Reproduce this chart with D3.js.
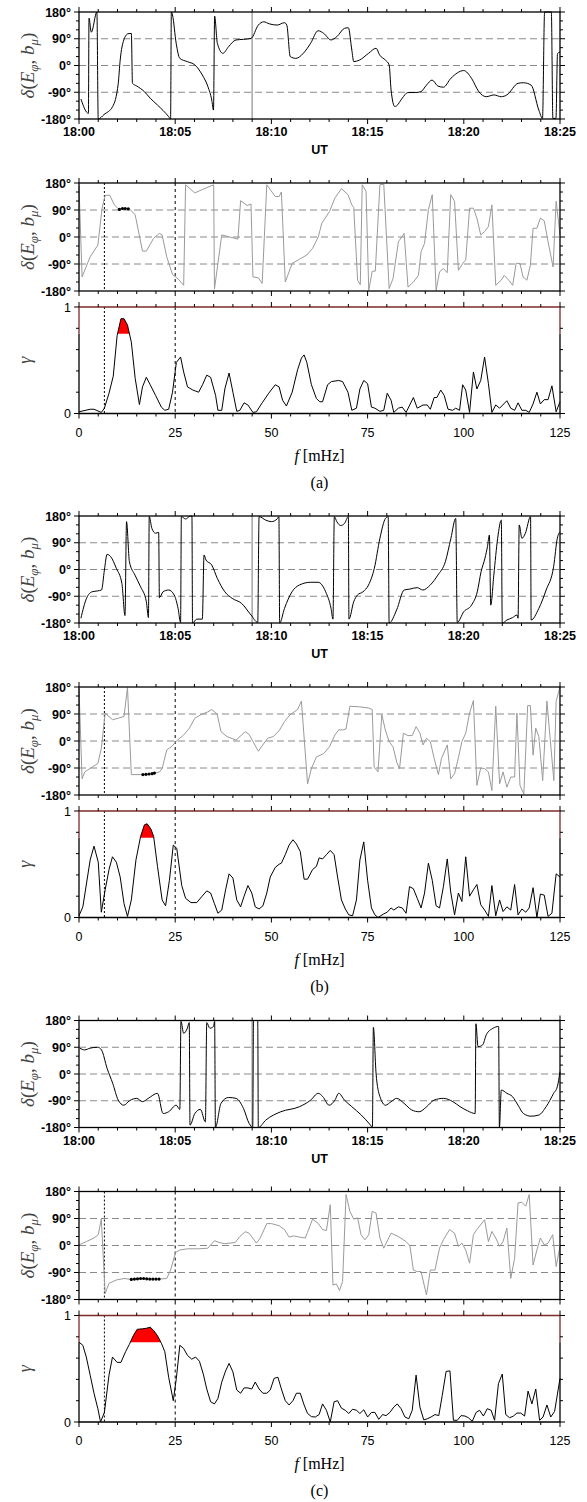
<!DOCTYPE html>
<html>
<head>
<meta charset="utf-8">
<script src="https://cdn.jsdelivr.net/npm/d3@7"></script>
<style>
  body { margin: 0; background: #fff; }
</style>
</head>
<body>
<div id="chart"></div>
<script>
// time series: [minutes after 18:00 UT, phase in degrees]
const timeSeriesA = [[0.1,-113],[0.49,-161],[0.52,159],[0.64,112],[0.93,180],[1.0,-180],[1.3,-165],[1.75,-138],[2.04,-60],[2.14,18],[2.33,86],[2.55,107],[2.72,108],[2.78,-60],[3.0,-69],[3.4,-88],[3.7,-110],[4.08,-133],[4.66,-172],[4.76,-180],[4.8,180],[4.86,170],[5.05,75],[5.24,24],[5.63,13],[6.02,2],[6.41,-32],[6.7,-71],[6.9,-116],[6.99,-150],[7.05,166],[7.19,75],[7.48,41],[7.77,63],[8.16,86],[8.55,88],[8.94,91],[9.32,136],[9.6,147],[9.9,140],[10.3,136],[10.68,144],[10.8,136],[10.98,30],[11.27,24],[11.66,41],[12.04,75],[12.43,117],[12.72,108],[13.1,86],[13.4,97],[13.8,125],[14.0,127],[14.18,52],[14.28,13],[14.57,18],[15.05,41],[15.44,58],[15.63,35],[15.93,18],[16.12,2],[16.22,-82],[16.41,-138],[16.5,-136],[16.8,-110],[17.09,-91],[17.48,-91],[17.77,-88],[18.06,-66],[18.35,-49],[18.65,-69],[18.94,-73],[19.33,-43],[20.0,-17],[20.4,-43],[20.78,-88],[21.17,-105],[21.56,-99],[21.95,-105],[22.24,-99],[22.82,-60],[23.1,-58],[23.5,-66],[23.9,-150],[24.09,-178],[24.2,180],[24.55,180],[24.63,-178],[24.79,-178],[24.87,40],[25,45]];
const timeSeriesB = [[0.1,-164],[0.39,-97],[0.68,-75],[0.97,-72],[1.17,-69],[1.32,-2],[1.46,51],[1.65,43],[1.94,4],[2.23,-47],[2.39,-155],[2.47,161],[2.62,26],[2.91,-19],[3.2,-58],[3.5,-108],[3.61,-162],[3.65,178],[3.79,138],[3.98,122],[4.14,125],[4.18,-95],[4.37,-75],[4.66,-69],[4.95,-86],[5.15,-131],[5.28,-178],[5.32,178],[5.54,170],[5.73,178],[5.87,180],[5.9,-180],[6.12,-167],[6.41,-167],[6.5,49],[6.6,32],[6.9,15],[7.19,-30],[7.58,-75],[7.96,-97],[8.45,-114],[8.94,-153],[9.29,-178],[9.36,178],[9.71,166],[10.0,161],[10.3,170],[10.39,178],[10.43,-180],[10.68,-131],[11.07,-75],[11.46,-52],[12.04,-43],[12.43,-43],[12.82,-75],[13.1,-131],[13.2,-167],[13.27,178],[13.4,161],[13.6,148],[13.8,155],[14.0,178],[14.03,-167],[14.28,-108],[14.47,-86],[14.76,-75],[15.05,-52],[15.35,4],[15.64,105],[15.93,172],[16.07,178],[16.12,-180],[16.51,-136],[16.9,-69],[17.19,-66],[17.58,-61],[17.87,-69],[18.26,-52],[18.65,-19],[19.04,26],[19.33,105],[19.58,172],[19.66,-178],[20.0,-142],[20.4,-120],[20.7,-75],[20.9,-7],[21.1,38],[21.23,77],[21.33,116],[21.4,-120],[21.56,-19],[21.76,105],[21.95,166],[22.0,-180],[22.24,-170],[22.53,-162],[22.77,-153],[22.82,-164],[22.88,150],[23.02,105],[23.2,122],[23.47,178],[23.5,-170],[23.9,-131],[24.28,-69],[24.67,10],[24.86,105],[25,127]];
const timeSeriesC = [[0.04,87],[0.29,81],[0.58,87],[0.97,90],[1.17,81],[1.46,19],[1.75,-31],[2.04,-88],[2.33,-105],[2.62,-90],[3.0,-82],[3.3,-93],[3.6,-82],[4.08,-65],[4.37,-133],[4.66,-127],[5.05,-105],[5.24,-119],[5.3,177],[5.44,137],[5.63,154],[5.73,173],[5.77,-172],[6.02,-133],[6.31,-119],[6.57,-161],[6.64,173],[6.8,154],[6.99,160],[7.05,177],[7.09,-180],[7.38,-99],[7.77,-79],[8.16,-82],[8.55,-116],[8.84,-166],[9.03,-180],[9.07,180],[9.29,180],[9.32,-180],[9.71,-155],[10.49,-127],[11.46,-110],[12.04,-88],[12.43,-65],[12.67,-76],[13.0,-105],[13.3,-88],[13.5,-65],[13.8,-88],[14.18,-110],[14.67,-138],[15.15,-172],[15.25,-180],[15.3,157],[15.44,2],[15.64,-76],[15.93,-105],[16.22,-93],[16.51,-82],[16.9,-99],[17.29,-121],[17.68,-127],[18.07,-110],[18.45,-88],[18.94,-82],[19.43,-93],[19.81,-110],[20.2,-124],[20.59,-133],[20.63,169],[20.74,92],[20.98,98],[21.17,132],[21.52,154],[21.81,160],[21.85,-180],[21.95,-54],[22.24,-65],[22.53,-76],[22.82,-105],[23.1,-133],[23.5,-142],[23.9,-138],[24.28,-110],[24.67,-65],[24.86,-43],[25,8]];

// cross phase spectra: [f in mHz, phase in degrees]
const phaseA = [[0,170],[0.8,-133],[2.9,-66],[4.9,-27],[6.0,96],[6.8,139],[8.0,139],[9.2,107],[10.2,94],[13.1,94],[14.6,74],[16.5,-47],[17.5,-47],[19.4,-4],[20.9,12],[21.6,7],[22.8,-66],[24.3,-125],[25.7,-139],[27.2,-161],[27.7,174],[30.1,147],[32.0,158],[35.0,174],[35.2,-174],[37.1,7],[38.9,1],[41.3,-7],[42.0,121],[43.7,105],[44.7,110],[45.2,-133],[46.6,-136],[47.6,-155],[48.8,174],[51.0,135],[52.0,135],[52.6,150],[53.6,-150],[55.4,-88],[57.3,-74],[59.2,-60],[60.7,-38],[62.2,1],[63.1,46],[65.1,85],[66.5,130],[68.2,161],[69.9,141],[70.9,107],[71.4,98],[72.4,-144],[73.1,-159],[73.6,174],[74.6,152],[75.3,-178],[76.2,-114],[77.0,-114],[78.2,174],[79.2,176],[80.6,-172],[81.6,-139],[83.0,-16],[84.5,12],[85.5,-167],[86.9,-150],[88.2,-128],[88.9,-49],[89.8,-21],[90.8,91],[91.8,141],[92.8,-178],[93.7,-116],[94.7,-105],[95.7,-119],[96.6,141],[97.6,119],[98.6,-111],[100.0,-83],[100.5,-77],[101.5,96],[102.5,96],[103.4,63],[104.4,7],[105.4,18],[106.4,35],[107.3,107],[108.3,-161],[109.7,-144],[110.5,-128],[111.7,-144],[112.7,-161],[113.6,-88],[114.6,-88],[115.4,-133],[116.4,-144],[117.3,-94],[118.0,29],[119.0,29],[119.9,63],[120.9,54],[121.9,-16],[123.2,-100],[124.0,119],[125,7]];
const phaseB = [[0,175],[0.8,-126],[1.5,-103],[3.4,-87],[4.9,-75],[5.8,-25],[6.8,93],[8.7,71],[10.2,76],[11.7,82],[12.6,178],[13.6,-112],[16.0,-112],[16.6,-112],[17.4,-112],[18.2,-110],[19.0,-109],[19.6,-108],[20.9,-103],[21.6,-92],[22.8,-30],[24.3,-16],[25.3,0],[27.2,20],[28.7,43],[30.1,76],[32.0,90],[33.5,97],[34.5,105],[35.9,90],[36.9,31],[38.4,15],[40.8,3],[43.2,31],[44.2,22],[46.6,-34],[49.0,9],[50.5,15],[52.0,34],[53.4,65],[54.9,88],[56.8,105],[57.8,133],[59.4,-143],[60.4,-92],[61.7,-53],[63.6,-42],[65.1,-19],[66.5,20],[67.5,37],[68.5,37],[69.4,40],[70.4,116],[72.8,114],[75.3,110],[76.2,105],[76.7,-87],[77.7,-103],[78.7,88],[79.6,37],[80.6,-2],[81.6,-19],[82.6,-72],[83.3,-92],[84.3,26],[85.5,18],[86.6,18],[87.6,48],[88.6,26],[89.4,-13],[90.3,9],[91.3,-2],[92.3,-58],[93.4,-112],[94.2,-58],[95.7,-13],[96.6,-126],[97.6,-109],[98.6,-56],[99.5,-2],[100.5,26],[101.5,93],[102.5,135],[103.4,-148],[104.4,-90],[105.4,-92],[106.4,-103],[107.3,-165],[108.3,116],[109.3,-143],[110.2,-103],[111.2,-154],[112.2,-120],[113.2,-120],[113.8,93],[114.6,-148],[115.6,-177],[116.6,118],[117.3,118],[118.0,-47],[118.7,43],[119.5,15],[120.5,-132],[121.6,133],[123.4,-132],[124.0,133],[125,180]];
const phaseC = [[0,2],[1.9,13],[3.9,25],[5.0,36],[5.8,88],[6.8,-160],[7.8,-126],[9.7,-115],[11.7,-110],[13.6,-113],[14.4,-112],[15.2,-111],[16.0,-110],[16.8,-110],[17.6,-111],[18.4,-112],[19.2,-112],[20.0,-112],[20.8,-112],[22.8,-110],[23.8,-82],[25.1,-23],[26.2,-15],[28.2,-11],[31.1,-11],[33.5,-9],[35.2,16],[36.4,10],[37.9,6],[40.6,10],[41.8,30],[43.2,46],[44.2,41],[46.1,8],[47.1,25],[48.8,73],[50.0,73],[52.0,66],[53.4,53],[54.6,28],[55.8,32],[57.3,28],[58.8,25],[59.4,44],[60.7,88],[62.2,73],[63.3,53],[64.3,50],[65.3,136],[66.0,-132],[66.9,-128],[67.7,-150],[68.5,-120],[69.4,170],[70.4,114],[71.4,88],[72.4,92],[73.3,36],[74.3,19],[75.3,36],[76.2,114],[77.2,108],[78.2,25],[79.2,-9],[81.1,41],[83.0,30],[85.0,13],[86.0,-1],[86.9,-82],[87.9,-87],[88.9,-87],[90.3,-165],[91.3,-82],[92.5,-82],[93.7,-9],[94.7,19],[96.3,53],[97.6,41],[98.6,-3],[99.5,8],[100.5,-15],[101.5,-59],[102.5,36],[103.4,53],[105.4,86],[106.4,13],[107.3,47],[108.3,25],[109.3,-3],[110.2,13],[111.2,58],[112.2,-110],[113.2,-43],[114.1,142],[115.1,144],[116.1,131],[117.0,170],[118.0,-65],[119.0,-15],[119.9,25],[120.9,2],[121.9,8],[123.1,36],[124.0,-70],[125,-3]];

// phase points where coherence is significant
const dotsA = [[10.5,92],[11.3,95],[12.0,95],[12.8,94]];
const dotsB = [[16.6,-112],[17.4,-111],[18.2,-110],[19.0,-109],[19.6,-107]];
const dotsC = [[13.6,-113],[14.4,-112],[15.2,-111],[16.0,-110],[16.8,-110],[17.6,-111],[18.4,-112],[19.2,-112],[20.0,-112],[20.8,-112]];

// coherence: [f in mHz, gamma]
const cohA = [[0,0.016],[2.9,0.04],[3.9,0.04],[5.8,0.01],[6.6,0.05],[7.8,0.19],[8.9,0.35],[9.9,0.73],[10.9,0.89],[11.7,0.89],[12.6,0.83],[13.6,0.67],[14.6,0.33],[15.7,0.084],[16.5,0.25],[17.5,0.34],[18.5,0.27],[19.9,0.17],[21.4,0.06],[22.3,0.03],[23.3,0.04],[24.3,0.2],[25.3,0.48],[26.4,0.53],[27.2,0.39],[28.2,0.25],[29.6,0.22],[31.1,0.2],[32.1,0.27],[33.2,0.36],[34.2,0.34],[35.5,0.17],[36.1,0.03],[37.1,0.03],[37.9,0.23],[39.0,0.38],[40.0,0.2],[41.0,0.02],[41.8,0.03],[42.9,0.1],[43.9,0.08],[45.2,0.01],[46.1,0.016],[47.6,0.1],[49.3,0.19],[51.0,0.27],[52.0,0.25],[52.9,0.125],[53.9,0.07],[55.4,0.2],[56.8,0.41],[57.8,0.52],[58.5,0.55],[59.2,0.48],[60.4,0.27],[61.7,0.14],[62.6,0.11],[63.3,0.11],[64.6,0.27],[65.6,0.3],[67.5,0.31],[68.5,0.3],[69.9,0.2],[70.9,0.03],[72.1,0.05],[73.0,0.23],[74.0,0.31],[75.0,0.28],[76.0,0.06],[76.9,0.05],[78.2,0.02],[79.2,0.03],[80.1,0.19],[81.1,0.125],[81.8,0.01],[83.0,0.05],[84.0,0.06],[85.0,0.01],[86.9,0.15],[87.9,0.05],[89.4,0.08],[90.5,0.08],[91.3,0.04],[92.3,0.15],[93.0,0.15],[94.0,0.22],[94.9,0.17],[95.9,0.04],[97.1,0.03],[97.9,0.05],[98.9,0.03],[99.7,0.27],[100.5,0.22],[101.5,0.01],[102.5,0.39],[103.4,0.23],[104.4,0.31],[105.4,0.53],[106.4,0.28],[107.3,0.01],[108.3,0.08],[109.3,0.05],[111.2,0.12],[112.2,0.05],[113.2,0.03],[114.1,0.1],[115.1,0.03],[116.1,0.03],[117.0,0.01],[118.0,0.09],[119.0,0.2],[119.9,0.09],[120.9,0.13],[121.9,0.13],[122.9,0.26],[124.0,0.016],[125,0.11]];
const cohB = [[0,0.016],[1.0,0.1],[2.9,0.54],[3.9,0.67],[5.0,0.52],[5.8,0.05],[6.8,0.26],[7.8,0.45],[8.7,0.57],[9.7,0.52],[10.7,0.38],[11.7,0.13],[12.6,0.01],[13.6,0.165],[14.8,0.54],[16.0,0.76],[17.0,0.87],[17.7,0.88],[18.7,0.83],[19.4,0.76],[20.4,0.48],[21.6,0.165],[22.5,0.11],[23.5,0.35],[24.5,0.68],[25.4,0.65],[26.7,0.3],[27.7,0.18],[29.1,0.14],[30.6,0.14],[32.0,0.2],[33.2,0.25],[34.2,0.23],[35.2,0.13],[36.1,0.04],[37.1,0.07],[38.1,0.26],[39.0,0.41],[40.0,0.37],[41.0,0.165],[42.0,0.1],[42.9,0.2],[43.9,0.3],[44.9,0.23],[45.8,0.1],[46.8,0.08],[47.8,0.11],[48.8,0.23],[49.7,0.38],[51.0,0.47],[52.0,0.5],[52.6,0.51],[53.6,0.59],[54.6,0.68],[55.6,0.73],[56.5,0.69],[57.5,0.62],[58.5,0.36],[59.4,0.36],[60.7,0.45],[61.7,0.48],[62.4,0.56],[63.3,0.55],[64.3,0.59],[65.3,0.63],[66.3,0.59],[67.2,0.38],[68.2,0.165],[69.2,0.08],[70.1,0.025],[71.1,0.016],[72.1,0.165],[73.0,0.54],[74.0,0.71],[75.0,0.35],[76.0,0.09],[76.9,0.025],[77.7,0],[79.2,0.034],[80.1,0.05],[81.1,0.09],[81.8,0.07],[83.0,0.1],[84.0,0.09],[85.0,0.04],[85.9,0.29],[86.9,0.27],[87.9,0.18],[88.9,0.09],[89.8,0.23],[90.8,0.51],[91.8,0.35],[92.8,0.11],[93.7,0.09],[94.7,0.29],[95.7,0.55],[96.6,0.24],[97.6,0.025],[98.6,0.23],[99.5,0.15],[100.5,0.57],[101.5,0.2],[102.5,0.26],[103.4,0.31],[104.4,0.12],[105.4,0.07],[106.4,0.01],[107.3,0.3],[108.3,0.016],[109.3,0.165],[110.2,0.056],[111.2,0.1],[112.2,0.07],[113.2,0.31],[114.1,0.025],[115.1,0.08],[116.1,0.05],[117.0,0.09],[118.0,0.28],[119.0,0],[119.9,0.22],[120.9,0.21],[121.9,0.01],[122.9,0.04],[124.0,0.41],[125,0.38]];
const cohC = [[0,0.75],[1.0,0.72],[1.9,0.61],[2.9,0.44],[3.9,0.27],[4.9,0.125],[5.6,0],[6.6,0.09],[7.8,0.44],[8.7,0.61],[9.9,0.56],[10.9,0.56],[12.1,0.66],[13.1,0.73],[14.1,0.81],[15.1,0.87],[16.5,0.875],[17.5,0.88],[18.5,0.89],[19.4,0.86],[20.4,0.81],[21.4,0.74],[22.3,0.66],[23.3,0.42],[24.5,0.2],[25.3,0.41],[26.2,0.72],[27.2,0.69],[28.2,0.625],[29.3,0.59],[30.3,0.61],[31.3,0.57],[32.3,0.45],[33.2,0.31],[34.2,0.19],[35.2,0.17],[36.1,0.22],[37.1,0.375],[38.1,0.48],[39.0,0.55],[40.0,0.47],[41.0,0.3],[42.0,0.27],[42.9,0.32],[43.9,0.32],[44.9,0.31],[45.8,0.375],[46.8,0.31],[47.8,0.27],[48.8,0.27],[49.7,0.3],[50.7,0.41],[51.7,0.42],[52.6,0.31],[53.6,0.2],[54.6,0.16],[55.6,0.2],[56.5,0.27],[57.5,0.27],[58.5,0.16],[59.4,0.08],[60.4,0.05],[61.4,0.047],[62.4,0.07],[63.3,0.17],[64.3,0.11],[65.3,0],[66.3,0.19],[67.2,0.2],[68.2,0.13],[69.2,0.11],[70.1,0.08],[71.1,0.12],[72.1,0.11],[73.0,0.08],[74.0,0.115],[75.0,0.047],[76.0,0.09],[76.9,0.09],[77.9,0.025],[78.9,0.07],[79.8,0.06],[80.8,0.09],[81.8,0.14],[82.7,0.17],[83.7,0.125],[84.7,0.047],[85.7,0.03],[86.6,0.11],[87.6,0.44],[88.6,0.14],[89.6,0.02],[90.5,0.03],[91.5,0.047],[92.5,0.07],[93.5,0.06],[94.4,0.25],[95.4,0.475],[96.4,0.48],[97.3,0.016],[98.3,0.016],[99.3,0.06],[100.3,0.056],[101.2,0.04],[102.2,0.006],[103.2,0.09],[104.1,0.11],[105.1,0.056],[106.1,0.125],[107.1,0.11],[108.0,0.016],[109.0,0.36],[110.0,0.45],[110.9,0.07],[111.9,0.04],[112.9,0.056],[113.8,0.084],[114.8,0.084],[115.8,0.056],[116.7,0.29],[117.7,0.17],[118.7,0.31],[119.7,0.016],[120.6,0.047],[121.6,0.16],[122.6,0.047],[123.6,0.1],[125,0.41]];

const gammaLevel = 0.75;
const markTime = 9;           // grey marker at 18:09
const bandEdges = [6.6, 25];  // frequency band (dashed verticals)
const timeLabels = ['18:00', '18:05', '18:10', '18:15', '18:20', '18:25'];
const freqLabels = [0, 25, 50, 75, 100, 125];
const degLabels = [-180, -90, 0, 90, 180];
const panelTags = ['(a)', '(b)', '(c)'];

const width = 587, height = 1502;
const left = 79, right = 560;
const sans = '"Liberation Sans", Arial, sans-serif';
const serif = '"Liberation Serif", "Times New Roman", serif';

const svg = d3.select('#chart').append('svg')
    .attr('width', width)
    .attr('height', height);

const xT = d3.scaleLinear().domain([0, 25]).range([left, right]);
const xF = d3.scaleLinear().domain([0, 125]).range([left, right]);

const blocks = [
    { top: 12, ts: timeSeriesA, ph: phaseA, coh: cohA, dots: dotsA },
    { top: 516, ts: timeSeriesB, ph: phaseB, coh: cohB, dots: dotsB },
    { top: 1020.5, ts: timeSeriesC, ph: phaseC, coh: cohC, dots: dotsC }
];

// outward ticks on all four sides
function ticks(g, x, y, xMajor, xMinor, yMajor, yMinor) {
    const [xa, xb] = x.range();
    const [yb, ya] = y.range();
    const seg = (x1, y1, x2, y2) => g.append('line')
        .attr('x1', x1).attr('y1', y1).attr('x2', x2).attr('y2', y2)
        .attr('stroke', '#000').attr('stroke-width', 1);
    xMajor.forEach(v => { seg(x(v), ya - 5, x(v), ya); seg(x(v), yb, x(v), yb + 5); });
    xMinor.forEach(v => { seg(x(v), ya - 3, x(v), ya); seg(x(v), yb, x(v), yb + 3); });
    yMajor.forEach(v => { seg(xa - 5, y(v), xa, y(v)); seg(xb, y(v), xb + 5, y(v)); });
    yMinor.forEach(v => { seg(xa - 3, y(v), xa, y(v)); seg(xb, y(v), xb + 3, y(v)); });
}

function box(g, x, y) {
    const [xa, xb] = x.range();
    const [yb, ya] = y.range();
    g.append('rect')
        .attr('x', xa).attr('y', ya)
        .attr('width', xb - xa).attr('height', yb - ya)
        .attr('fill', 'none').attr('stroke', '#000').attr('stroke-width', 1.3);
}

function refLines(g, x, y) {
    [90, 0, -90].forEach(v => {
        g.append('line')
            .attr('x1', x.range()[0]).attr('x2', x.range()[1])
            .attr('y1', y(v)).attr('y2', y(v))
            .attr('stroke', '#8a8a8a').attr('stroke-width', 1)
            .attr('stroke-dasharray', '7,4');
    });
}

function degAxisLabels(g, y) {
    degLabels.forEach(v => {
        g.append('text')
            .attr('x', left - 8).attr('y', y(v) + 4.5)
            .attr('text-anchor', 'end')
            .attr('font-family', sans).attr('font-weight', 'bold').attr('font-size', 12.5)
            .text(v + '°');
    });
}

function deltaLabel(g, cy) {
    const t = g.append('text')
        .attr('transform', `translate(34, ${cy}) rotate(-90)`)
        .attr('text-anchor', 'middle')
        .attr('font-family', serif).attr('font-size', 19)
        .attr('fill', '#444');
    t.append('tspan').attr('font-style', 'italic').text('δ');
    t.append('tspan').text('(');
    t.append('tspan').attr('font-style', 'italic').text('E');
    t.append('tspan').attr('font-style', 'italic').attr('font-size', 13).attr('dy', 4).text('φ');
    t.append('tspan').attr('dy', -4).text(', ');
    t.append('tspan').attr('font-style', 'italic').text('b');
    t.append('tspan').attr('font-style', 'italic').attr('font-size', 13).attr('dy', 4).text('μ');
    t.append('tspan').attr('dy', -4).text(')');
}

const minutes = d3.range(0, 26);
const freqs = d3.range(0, 126, 5);

blocks.forEach((b, i) => {
    const g = svg.append('g');

    // ---- time series panel
    const yTs = d3.scaleLinear().domain([-180, 180]).range([b.top + 107, b.top]);
    refLines(g, xT, yTs);
    g.append('line')
        .attr('x1', xT(markTime)).attr('x2', xT(markTime))
        .attr('y1', yTs(-180)).attr('y2', yTs(180))
        .attr('stroke', '#aaa').attr('stroke-width', 1.6);
    g.append('path')
        .datum(b.ts)
        .attr('fill', 'none').attr('stroke', '#000').attr('stroke-width', 1)
        .attr('d', d3.line().x(d => xT(d[0])).y(d => yTs(d[1])).curve(d3.curveMonotoneX));
    box(g, xT, yTs);
    ticks(g, xT, yTs,
        minutes.filter(m => m % 5 === 0), minutes.filter(m => m % 5 !== 0),
        degLabels, [-150, -120, -60, -30, 30, 60, 120, 150]);
    degAxisLabels(g, yTs);
    timeLabels.forEach((lab, k) => {
        g.append('text')
            .attr('x', xT(k * 5)).attr('y', yTs(-180) + 17)
            .attr('text-anchor', 'middle')
            .attr('font-family', sans).attr('font-weight', 'bold').attr('font-size', 12.5)
            .text(lab);
    });
    g.append('text')
        .attr('x', (left + right) / 2).attr('y', yTs(-180) + 35)
        .attr('text-anchor', 'middle')
        .attr('font-family', sans).attr('font-weight', 'bold').attr('font-size', 12.5)
        .text('UT');
    deltaLabel(g, (yTs(180) + yTs(-180)) / 2);

    // ---- cross phase panel
    const yPh = d3.scaleLinear().domain([-180, 180]).range([b.top + 279, b.top + 171]);
    refLines(g, xF, yPh);
    bandEdges.forEach((f, k) => {
        g.append('line')
            .attr('x1', xF(f)).attr('x2', xF(f))
            .attr('y1', yPh(180)).attr('y2', yPh(-180))
            .attr('stroke', '#000').attr('stroke-width', 1)
            .attr('stroke-dasharray', k === 0 ? '2,2' : '3,3');
    });
    g.append('path')
        .datum(b.ph)
        .attr('fill', 'none').attr('stroke', '#9a9a9a').attr('stroke-width', 1)
        .attr('d', d3.line().x(d => xF(d[0])).y(d => yPh(d[1])));
    g.selectAll(null).data(b.dots).join('circle')
        .attr('cx', d => xF(d[0])).attr('cy', d => yPh(d[1]))
        .attr('r', 1.6).attr('fill', '#000');
    box(g, xF, yPh);
    ticks(g, xF, yPh,
        freqs.filter(f => f % 25 === 0), freqs.filter(f => f % 25 !== 0),
        degLabels, [-150, -120, -60, -30, 30, 60, 120, 150]);
    degAxisLabels(g, yPh);
    deltaLabel(g, (yPh(180) + yPh(-180)) / 2);

    // ---- coherence panel
    const yC = d3.scaleLinear().domain([0, 1]).range([b.top + 401.5, b.top + 295]);
    bandEdges.forEach((f, k) => {
        g.append('line')
            .attr('x1', xF(f)).attr('x2', xF(f))
            .attr('y1', yC(1)).attr('y2', yC(0))
            .attr('stroke', '#000').attr('stroke-width', 1)
            .attr('stroke-dasharray', k === 0 ? '2,2' : '3,3');
    });
    const clipId = 'sig' + i;
    g.append('clipPath').attr('id', clipId)
        .append('rect')
        .attr('x', left).attr('y', yC(1))
        .attr('width', right - left).attr('height', yC(gammaLevel) - yC(1));
    g.append('path')
        .datum(b.coh)
        .attr('clip-path', `url(#${clipId})`)
        .attr('fill', '#ff0000')
        .attr('d', d3.area().x(d => xF(d[0])).y0(yC(0)).y1(d => yC(d[1])));
    g.append('path')
        .datum(b.coh)
        .attr('fill', 'none').attr('stroke', '#000').attr('stroke-width', 1)
        .attr('d', d3.line().x(d => xF(d[0])).y(d => yC(d[1])));
    // frame: black below the significance level, dark red above it
    g.append('path')
        .attr('fill', 'none').attr('stroke', '#000').attr('stroke-width', 1.3)
        .attr('d', `M${left},${yC(gammaLevel)}V${yC(0)}H${right}V${yC(gammaLevel)}`);
    g.append('path')
        .attr('fill', 'none').attr('stroke', '#7d2a2a').attr('stroke-width', 1.3)
        .attr('d', `M${left},${yC(gammaLevel)}V${yC(1)}H${right}V${yC(gammaLevel)}`);
    ticks(g, xF, yC,
        freqs.filter(f => f % 25 === 0), freqs.filter(f => f % 25 !== 0),
        [0, 1], [0.2, 0.4, 0.6, 0.8]);
    [0, 1].forEach(v => {
        g.append('text')
            .attr('x', left - 8).attr('y', yC(v) + 4.5)
            .attr('text-anchor', 'end')
            .attr('font-family', sans).attr('font-size', 12.5)
            .text(v);
    });
    freqLabels.forEach(f => {
        g.append('text')
            .attr('x', xF(f)).attr('y', yC(0) + 23)
            .attr('text-anchor', 'middle')
            .attr('font-family', sans).attr('font-size', 12.5)
            .text(f);
    });
    g.append('text')
        .attr('transform', `translate(31, ${(yC(0) + yC(1)) / 2}) rotate(-90)`)
        .attr('text-anchor', 'middle')
        .attr('font-family', serif).attr('font-style', 'italic').attr('font-size', 18)
        .attr('fill', '#444')
        .text('γ');
    const fl = g.append('text')
        .attr('x', (left + right) / 2).attr('y', yC(0) + 47)
        .attr('text-anchor', 'middle')
        .attr('font-family', serif).attr('font-size', 16);
    fl.append('tspan').attr('font-style', 'italic').text('f');
    fl.append('tspan').text(' [mHz]');
    g.append('text')
        .attr('x', (left + right) / 2).attr('y', yC(0) + 74)
        .attr('text-anchor', 'middle')
        .attr('font-family', serif).attr('font-size', 16)
        .text(panelTags[i]);
});
</script>
</body>
</html>
